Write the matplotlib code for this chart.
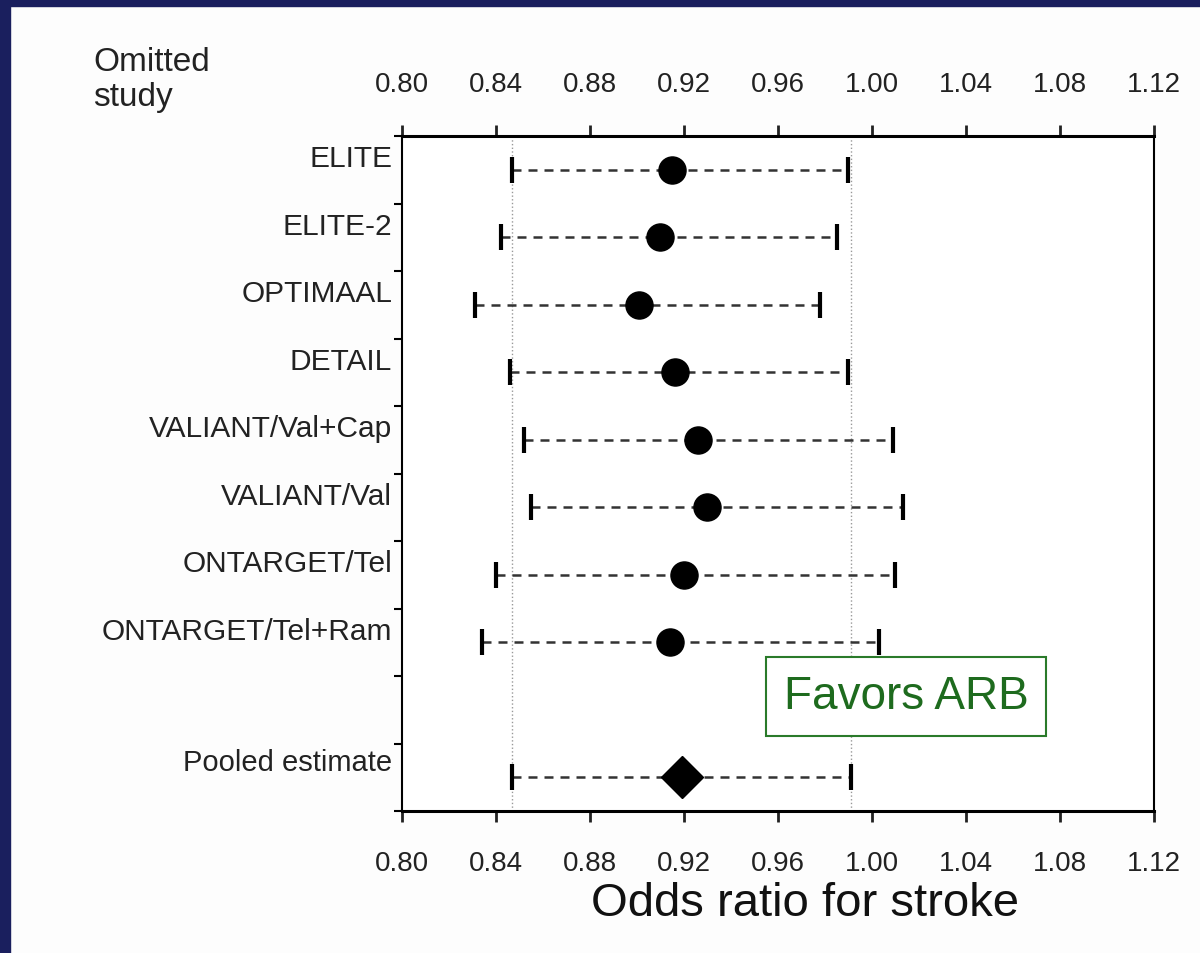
import matplotlib.pyplot as plt
from matplotlib.patches import Rectangle

studies = ['ELITE', 'ELITE-2', 'OPTIMAAL', 'DETAIL', 'VALIANT/Val+Cap',
           'VALIANT/Val', 'ONTARGET/Tel', 'ONTARGET/Tel+Ram']
odds = [0.915, 0.910, 0.901, 0.916, 0.926, 0.930, 0.920, 0.914]
lower = [0.847, 0.842, 0.831, 0.846, 0.852, 0.855, 0.840, 0.834]
upper = [0.990, 0.985, 0.978, 0.990, 1.009, 1.013, 1.010, 1.003]

pooled_label = 'Pooled estimate'
pooled_or = 0.919
pooled_lo = 0.847
pooled_hi = 0.991

xticks = [0.80, 0.84, 0.88, 0.92, 0.96, 1.00, 1.04, 1.08, 1.12]

plt.rcParams['font.family'] = ['Liberation Sans', 'DejaVu Sans']

fig = plt.figure(figsize=(12, 9.54), dpi=100)
fig.patch.set_facecolor('#fdfdfd')
# dark slide border on the left and top
fig.add_artist(Rectangle((0, 0), 10 / 1200, 1, transform=fig.transFigure,
                         color='#1a1f5e', zorder=0))
fig.add_artist(Rectangle((0, 1 - 7 / 954), 1, 7 / 954, transform=fig.transFigure,
                         color='#1a1f5e', zorder=0))

ax = fig.add_axes([402 / 1200, 1 - 812 / 954, 752 / 1200, 675 / 954])
ax.set_facecolor('white')

rows = list(range(1, len(studies) + 1))
pooled_row = len(studies) + 2

# reference lines at the pooled confidence limits
for v in (pooled_lo, pooled_hi):
    ax.axvline(v, color='#999999', lw=1, ls=':', zorder=1)

dash = (0, (3.6, 2.8))
ax.hlines(rows, lower, upper, colors='#333333', lw=1.8, linestyles=[dash], zorder=2)
ax.plot(lower, rows, ls='none', marker='|', ms=19, mew=3, color='black', zorder=3)
ax.plot(upper, rows, ls='none', marker='|', ms=19, mew=3, color='black', zorder=3)
ax.plot(odds, rows, ls='none', marker='o', ms=19.5, color='black', zorder=4)

ax.hlines([pooled_row], [pooled_lo], [pooled_hi], colors='#333333', lw=1.8,
          linestyles=[dash], zorder=2)
ax.plot([pooled_lo, pooled_hi], [pooled_row, pooled_row], ls='none', marker='|',
        ms=19, mew=3, color='black', zorder=3)
ax.plot([pooled_or], [pooled_row], ls='none', marker='D', ms=21, color='black', zorder=4)

ax.set_xlim(0.80, 1.12)
ax.set_ylim(pooled_row + 0.5, 0.5)

ax.set_xticks(xticks)
ax.set_xticklabels([f'{t:.2f}' for t in xticks])
ax.tick_params(axis='x', which='both', top=True, labeltop=True, direction='out',
               length=8, width=2, labelsize=20, colors='#222222', pad=20)
ax.set_yticks([r + 0.5 for r in range(0, pooled_row + 1)])
ax.set_yticklabels([])
ax.tick_params(axis='y', direction='out', length=6, width=1.5)

for s in ax.spines.values():
    s.set_linewidth(1.5)
ax.spines['top'].set_linewidth(2.2)
ax.spines['bottom'].set_linewidth(2.2)

for r, name in zip(rows, studies):
    ax.text(-0.013, r - 0.05, name, transform=ax.get_yaxis_transform(),
            ha='right', va='baseline', fontsize=21.5, color='#222222')
ax.text(-0.013, pooled_row - 0.1, pooled_label, transform=ax.get_yaxis_transform(),
        ha='right', va='baseline', fontsize=21, color='#222222')

fig.text(93 / 1200, 1 - 47 / 954, 'Omitted\nstudy', ha='left', va='top',
         fontsize=24, color='#222222', linespacing=1.15)
fig.text(805 / 1200, 1 - 904 / 954, 'Odds ratio for stroke', ha='center',
         va='center', fontsize=34, color='#111111')

ax.text(1.0145, 8.8, 'Favors ARB', ha='center', va='center', fontsize=33,
        color='#1e6b1e', zorder=5,
        bbox=dict(boxstyle='square,pad=0.38', fc='white', ec='#2a7a2a', lw=1.5))

fig.savefig('out.png', dpi=100, facecolor=fig.get_facecolor())
